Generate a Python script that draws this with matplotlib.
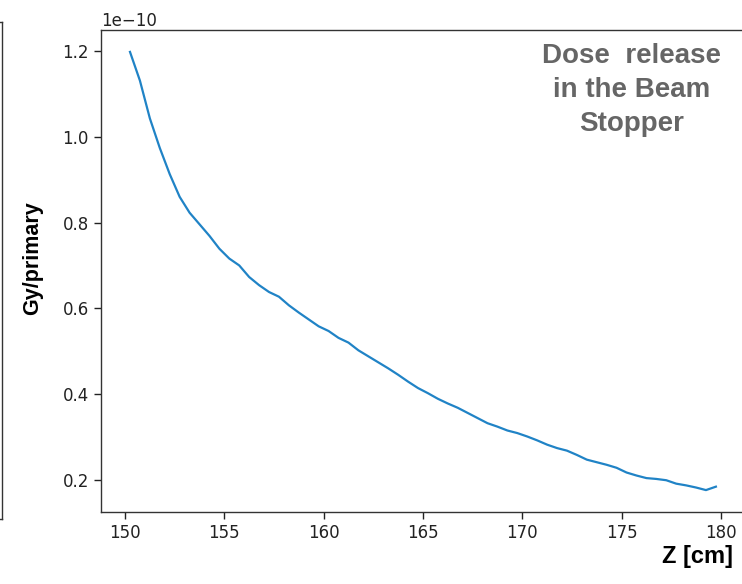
import matplotlib
matplotlib.use("Agg")
import matplotlib.pyplot as plt

plt.rcParams["font.family"] = ["DejaVu Sans"]

# Z position along the beam stopper (cm)
z_cm = [150.25, 150.75, 151.25, 151.75, 152.25, 152.75, 153.25, 153.75, 154.25, 154.75,
        155.25, 155.75, 156.25, 156.75, 157.25, 157.75, 158.25, 158.75, 159.25, 159.75,
        160.25, 160.75, 161.25, 161.75, 162.25, 162.75, 163.25, 163.75, 164.25, 164.75,
        165.25, 165.75, 166.25, 166.75, 167.25, 167.75, 168.25, 168.75, 169.25, 169.75,
        170.25, 170.75, 171.25, 171.75, 172.25, 172.75, 173.25, 173.75, 174.25, 174.75,
        175.25, 175.75, 176.25, 176.75, 177.25, 177.75, 178.25, 178.75, 179.25, 179.75]

# dose per primary, in units of 1e-10 Gy
dose_e10 = [1.198, 1.131, 1.043, 0.974, 0.913, 0.860, 0.823, 0.796, 0.769, 0.739,
            0.716, 0.700, 0.673, 0.654, 0.638, 0.627, 0.607, 0.590, 0.574, 0.558,
            0.547, 0.531, 0.520, 0.502, 0.488, 0.474, 0.460, 0.445, 0.429, 0.414,
            0.402, 0.389, 0.378, 0.368, 0.356, 0.344, 0.332, 0.324, 0.315, 0.309,
            0.301, 0.292, 0.282, 0.274, 0.268, 0.258, 0.247, 0.241, 0.235, 0.228,
            0.217, 0.210, 0.204, 0.202, 0.199, 0.191, 0.187, 0.182, 0.176, 0.184]

dose = [d * 1e-10 for d in dose_e10]

W, H = 742, 584
fig = plt.figure(figsize=(W / 100, H / 100), dpi=100)

# bit of a neighbouring plot cut off at the left edge
ghost = fig.add_axes([-0.5, 1 - 519 / H, 0.5 + 2 / W, (519 - 22) / H])
ghost.set_xticks([])
ghost.set_yticks([])
for s in ghost.spines.values():
    s.set_color("#333333")
    s.set_linewidth(1.0)

ax = fig.add_axes([100.7 / W, 1 - 512 / H, 644.5 / W, (512 - 30) / H])
ax.plot(z_cm, dose, color="#2083c6", linewidth=1.6)

ax.set_xticks([150, 155, 160, 165, 170, 175, 180])
ax.set_yticks([0.2e-10, 0.4e-10, 0.6e-10, 0.8e-10, 1.0e-10, 1.2e-10])
ax.tick_params(labelsize=12, length=5, width=1.0, colors="#222222")
ax.yaxis.get_offset_text().set_fontsize(12)
ax.yaxis.get_offset_text().set_color("#222222")
for s in ax.spines.values():
    s.set_color("#333333")
    s.set_linewidth(1.0)

ax.set_ylabel("Gy/primary", fontsize=15.5, fontweight="bold",
              family=["Liberation Sans", "DejaVu Sans"])
ax.yaxis.set_label_coords(-0.09, 0.527)

fig.text(697 / W, 1 - 556 / H, "Z [cm]", fontsize=17, fontweight="bold",
         family=["Liberation Sans", "DejaVu Sans"], ha="center", va="center")

fig.text(632 / W, 1 - 90 / H, "Dose  release\nin the Beam\nStopper",
         fontsize=20, fontweight="bold", color="#666666",
         family=["Liberation Sans", "DejaVu Sans"],
         ha="center", va="center", multialignment="center", linespacing=1.38)

fig.savefig("out.png", dpi=100)
